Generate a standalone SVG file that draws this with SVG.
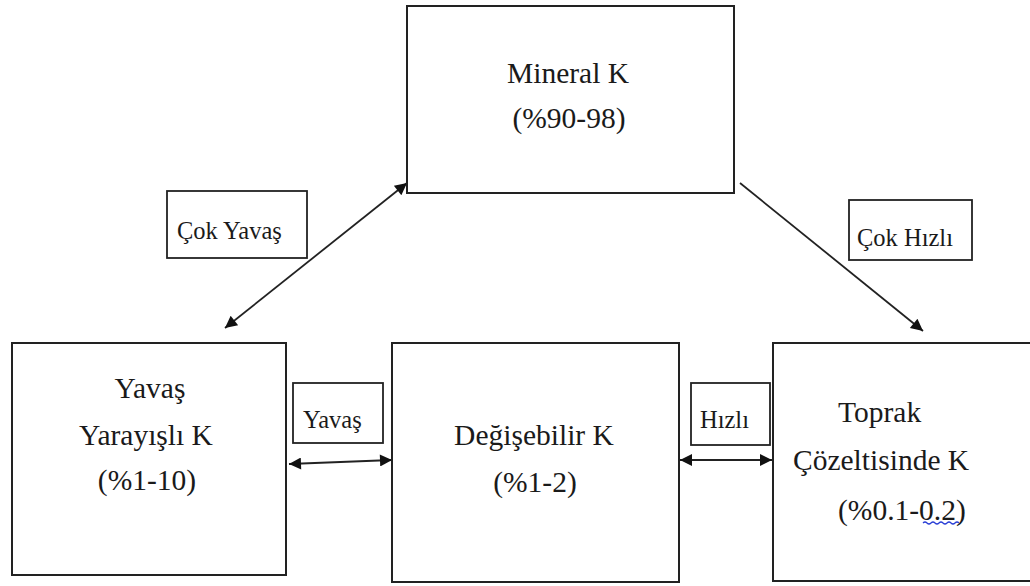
<svg xmlns="http://www.w3.org/2000/svg" width="1030" height="586" viewBox="0 0 1030 586">
<defs>
<style>
.box{fill:#fff;stroke:#222;stroke-width:2}
.lbl{fill:#fff;stroke:#222;stroke-width:1.8}
text{font-family:'Liberation Serif','Times New Roman',serif;fill:#1a1a1a}
.big{font-size:29.5px}
.small{font-size:24.5px}
.mid{text-anchor:middle}
.con{stroke:#222;stroke-width:1.8;fill:none}
</style>
<marker id="ah" viewBox="0 0 10 10" refX="10" refY="5" markerWidth="15" markerHeight="12" markerUnits="userSpaceOnUse" orient="auto-start-reverse">
<path d="M0,0 L10,5 L0,10 Z" fill="#111"/>
</marker>
</defs>
<rect width="1030" height="586" fill="#fff"/>
<g id="connectors">
<line class="con" x1="407" y1="183" x2="225" y2="328" marker-start="url(#ah)" marker-end="url(#ah)"/>
<line class="con" x1="740" y1="183" x2="923" y2="331" marker-end="url(#ah)"/>
<line class="con" x1="289" y1="464" x2="392" y2="460" marker-start="url(#ah)" marker-end="url(#ah)"/>
<line class="con" x1="680" y1="460" x2="772" y2="460" marker-start="url(#ah)" marker-end="url(#ah)"/>
</g>
<g id="mineral">
<rect class="box" x="407" y="6" width="327" height="187"/>
<text class="big mid" x="568" y="83">Mineral K</text>
<text class="big mid" x="569" y="128">(%90-98)</text>
</g>
<g id="yavas-yarayisli">
<rect class="box" x="12" y="343" width="274" height="232"/>
<text class="big mid" x="150" y="398">Yavaş</text>
<text class="big mid" x="146" y="445">Yarayışlı K</text>
<text class="big mid" x="147" y="490">(%1-10)</text>
</g>
<g id="degisebilir">
<rect class="box" x="392" y="343" width="287" height="239"/>
<text class="big mid" x="534" y="445">Değişebilir K</text>
<text class="big mid" x="535" y="492">(%1-2)</text>
</g>
<g id="toprak">
<rect class="box" x="773" y="343" width="262" height="238"/>
<text class="big" x="838" y="422">Toprak</text>
<text class="big" x="793" y="470">Çözeltisinde K</text>
<text class="big" x="838" y="520">(%0.1-0.2)</text>
<path d="M923,523 q2,-2 4,0 t4,0 t4,0 t4,0 t4,0 t4,0 t4,0 t4,0 t4,0" fill="none" stroke="#2a3fd6" stroke-width="1.2"/>
</g>
<g id="lbl-cok-yavas">
<rect class="lbl" x="167" y="191" width="140" height="67"/>
<text class="small" x="177" y="239">Çok Yavaş</text>
</g>
<g id="lbl-cok-hizli">
<rect class="lbl" x="849" y="200" width="123" height="60"/>
<text class="small" x="857" y="246">Çok Hızlı</text>
</g>
<g id="lbl-yavas">
<rect class="lbl" x="293" y="383" width="90" height="60"/>
<text class="small" x="303" y="428">Yavaş</text>
</g>
<g id="lbl-hizli">
<rect class="lbl" x="691" y="383" width="79" height="62"/>
<text class="small" x="700" y="428">Hızlı</text>
</g>
</svg>
